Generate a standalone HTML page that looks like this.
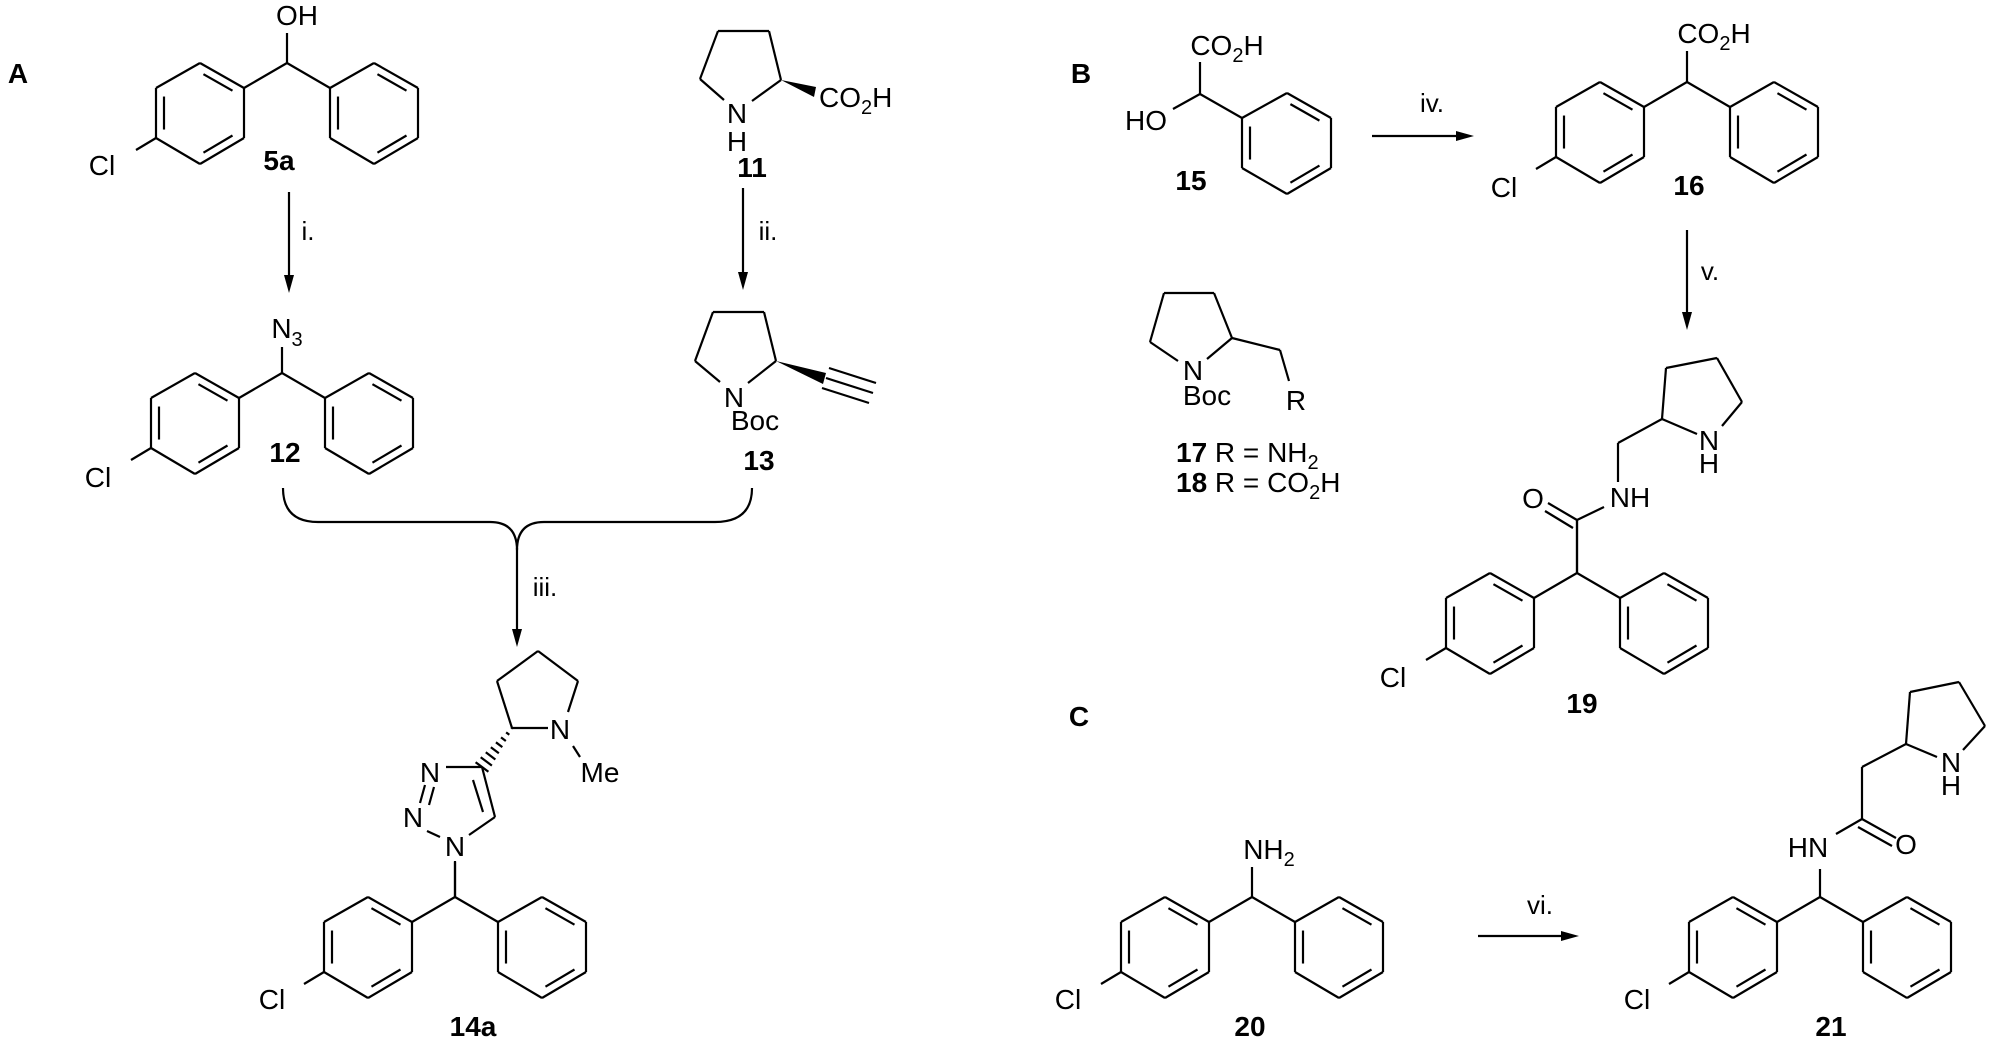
<!DOCTYPE html>
<html><head><meta charset="utf-8"><style>
html,body{margin:0;padding:0;background:#fff;}
svg{display:block}
text{font-family:"Liberation Sans",Arial,sans-serif;fill:#000;font-size:28px}
.b{font-weight:bold}
.r{font-size:26px}
</style></head><body>
<svg id="s" width="1989" height="1039" viewBox="0 0 1989 1039" xmlns="http://www.w3.org/2000/svg">
<g id="g" stroke="#000" stroke-width="2.2" fill="none" stroke-linejoin="round"></g>
<g id="f" fill="#000" stroke="none"></g>
<g text-anchor="middle">
<text class="b" x="18" y="83" text-anchor="middle">A</text>
<text class="b" x="1081" y="83">B</text>
<text class="b" x="1079" y="726">C</text>

<text x="297" y="25">OH</text>
<text x="102" y="175">Cl</text>
<text class="b" x="279" y="170">5a</text>

<text x="287" y="338">N<tspan font-size="20" dy="8">3</tspan></text>
<text x="98" y="487">Cl</text>
<text class="b" x="285" y="462">12</text>

<text x="737" y="123">N</text>
<text x="737" y="151">H</text>
<text x="819" y="107" text-anchor="start">CO<tspan font-size="20" dy="7">2</tspan><tspan dy="-7">H</tspan></text>
<text class="b" x="752" y="177">11</text>

<text x="734" y="407">N</text>
<text x="755" y="430">Boc</text>
<text class="b" x="759" y="470">13</text>

<text x="560" y="739">N</text>
<text x="600" y="782">Me</text>
<text x="430" y="782">N</text>
<text x="413" y="827">N</text>
<text x="455" y="856">N</text>
<text x="272" y="1009">Cl</text>
<text class="b" x="473" y="1036">14a</text>

<text x="1227" y="55">CO<tspan font-size="20" dy="7">2</tspan><tspan dy="-7">H</tspan></text>
<text x="1146" y="130">HO</text>
<text class="b" x="1191" y="190">15</text>

<text x="1193" y="380">N</text>
<text x="1207" y="405">Boc</text>
<text x="1296" y="410">R</text>
<text x="1176" y="462" text-anchor="start"><tspan class="b">17</tspan> R = NH<tspan font-size="20" dy="7">2</tspan></text>
<text x="1176" y="492" text-anchor="start"><tspan class="b">18</tspan> R = CO<tspan font-size="20" dy="7">2</tspan><tspan dy="-7">H</tspan></text>

<text x="1714" y="43">CO<tspan font-size="20" dy="7">2</tspan><tspan dy="-7">H</tspan></text>
<text x="1504" y="197">Cl</text>
<text class="b" x="1689" y="195">16</text>

<text x="1709" y="450">N</text>
<text x="1709" y="473">H</text>
<text x="1630" y="507">NH</text>
<text x="1533" y="508">O</text>
<text x="1393" y="687">Cl</text>
<text class="b" x="1582" y="713">19</text>

<text x="1269" y="859">NH<tspan font-size="20" dy="7">2</tspan></text>
<text x="1068" y="1009">Cl</text>
<text class="b" x="1250" y="1036">20</text>

<text x="1951" y="772">N</text>
<text x="1951" y="795">H</text>
<text x="1808" y="857">HN</text>
<text x="1906" y="854">O</text>
<text x="1637" y="1009">Cl</text>
<text class="b" x="1831" y="1036">21</text>

<text class="r" x="308" y="240">i.</text>
<text class="r" x="768" y="240">ii.</text>
<text class="r" x="545" y="596">iii.</text>
<text class="r" x="1432" y="112">iv.</text>
<text class="r" x="1710" y="280">v.</text>
<text class="r" x="1540" y="914">vi.</text>
</g>
</svg>
<script>
var g=document.getElementById('g'),f=document.getElementById('f'),s='',t='';
function L(a,b,c,d){s+='<line x1="'+a+'" y1="'+b+'" x2="'+c+'" y2="'+d+'"/>';}
function P(pts){t+='<polygon points="'+pts+'"/>';}
function ring(pts,dbl){
 var n=pts.length,cx=0,cy=0;pts.forEach(function(p){cx+=p[0];cy+=p[1];});cx/=n;cy/=n;
 for(var i=0;i<n;i++){var a=pts[i],b=pts[(i+1)%n];L(a[0],a[1],b[0],b[1]);}
 dbl.forEach(function(i){var a=pts[i],b=pts[(i+1)%n];
  var mx=(a[0]+b[0])/2,my=(a[1]+b[1])/2,dx=cx-mx,dy=cy-my,d=Math.hypot(dx,dy),ox=dx/d*8,oy=dy/d*8;
  var k=0.17;var a2=[a[0]+(b[0]-a[0])*k+ox,a[1]+(b[1]-a[1])*k+oy],b2=[b[0]+(a[0]-b[0])*k+ox,b[1]+(a[1]-b[1])*k+oy];
  L(a2[0],a2[1],b2[0],b2[1]);});
}
function diaryl(cx,cy,up){
 var l=[[-43,25],[-87,0],[-131,25],[-131,75],[-87,101],[-43,75]].map(function(p){return[cx+p[0],cy+p[1]];});
 var r=[[43,25],[87,0],[131,25],[131,75],[87,101],[43,75]].map(function(p){return[cx+p[0],cy+p[1]];});
 ring(l,[0,2,4]);ring(r,[1,3,5]);
 L(cx,cy,cx-43,cy+25);L(cx,cy,cx+43,cy+25);
 L(cx-131,cy+75,cx-151,cy+87);
 if(up)L(cx,cy,cx,cy-up);
}
function arrowV(x,y1,y2){L(x,y1,x,y2-16);P(x+','+y2+' '+(x-5)+','+(y2-18)+' '+(x+5)+','+(y2-18));}
function arrowH(x1,x2,y){L(x1,y,x2-16,y);P(x2+','+y+' '+(x2-18)+','+(y-5)+' '+(x2-18)+','+(y+5));}
// 5a,12,14a,16,19,20,21
diaryl(287,63,30);diaryl(282,373,26);diaryl(455,897,36);diaryl(1687,82,31);diaryl(1577,573,53);diaryl(1252,897,30);diaryl(1820,897,28);
// arrows
arrowV(289,192,293);arrowV(743,188,290);arrowV(1687,230,330);arrowH(1372,1474,136);arrowH(1478,1579,936);
s+='<path d="M283,488 Q283,522 318,522 L490,522 Q517,522 517,550 Q517,522 544,522 L715,522 Q752,522 752,488"/>';
arrowV(517,548,647);
// 11
L(700,79,718,31);L(718,31,769,31);L(769,31,781,80);L(781,80,752,101);L(700,79,724,100);
P('781,80 816,87 814,97');
// 13
L(695,361,713,312);L(713,312,764,312);L(764,312,776,361);L(776,361,748,383);L(695,361,720,382);
P('776,361 826,373 823,384');
L(826,378,873,393);L(829,368,876,383);L(822,388,869,403);
// 14a pyrrolidine
L(497,681,538,651);L(538,651,578,681);L(578,681,568,712);L(497,681,512,728);L(512,728,548,728);L(573,746,580,757);
for(var i=0;i<8;i++){var k=i/7,x=512+(482-512)*k,y=728+(767-728)*k,h=1+k*7;L(x-h*0.8,y-h*0.6,x+h*0.8,y+h*0.6);}
// triazole
L(482,767,446,767);L(482,767,495,817);L(473,780,483,812);L(495,817,469,835);L(440,837,427,831);
L(420,803,425,785);L(429,805,434,787);L(455,862,455,897);
// 15
ring([[1242,118],[1287,93],[1331,118],[1331,168],[1287,194],[1242,168]],[1,3,5]);
L(1200,94,1242,118);L(1200,94,1200,62);L(1200,94,1173,109);
// 17/18
L(1150,342,1164,293);L(1164,293,1214,293);L(1214,293,1232,338);L(1232,338,1207,359);L(1150,342,1178,361);
L(1232,338,1280,350);L(1280,350,1289,381);
// 19
L(1577,573,1577,520);L(1577,520,1548,503);L(1573,528,1545,511);L(1577,520,1604,507);
L(1618,482,1618,443);L(1618,443,1662,419);
L(1662,419,1666,368);L(1666,368,1717,358);L(1717,358,1742,402);L(1742,402,1722,426);L(1662,419,1697,434);
// 21
L(1836,834,1862,819);L(1862,819,1896,838);L(1858,827,1892,846);L(1862,819,1862,767);L(1862,767,1906,744);
L(1906,744,1910,692);L(1910,692,1959,682);L(1959,682,1985,726);L(1985,726,1963,750);L(1906,744,1937,757);
g.innerHTML=s;f.innerHTML=t;
</script>
</body></html>
